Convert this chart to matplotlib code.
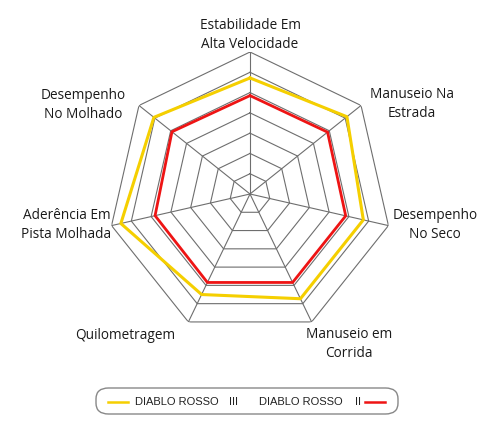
import numpy as np
import matplotlib
matplotlib.use('Agg')
import matplotlib.pyplot as plt
from matplotlib.patches import FancyBboxPatch
from matplotlib.lines import Line2D

categories = ['Estabilidade Em\nAlta Velocidade', 'Manuseio Na\nEstrada', 'Desempenho\nNo Seco',
              'Manuseio em\nCorrida', 'Quilometragem', 'Aderência Em\nPista Molhada',
              'Desempenho\nNo Molhado']
rosso_iii = [5.72, 6.11, 5.73, 5.73, 5.50, 6.53, 6.06]
rosso_ii = [4.85, 4.89, 4.84, 4.84, 4.84, 4.80, 4.92]
rings = [1, 2, 3, 4, 5, 6, 7]

W, H = 500, 435
fig = plt.figure(figsize=(W / 100, H / 100), dpi=100)
ax = fig.add_axes([108 / W, (H - 195 - 142) / H, 284 / W, 284 / H], projection='polar')
ax.set_theta_offset(np.pi / 2)
ax.set_theta_direction(-1)
ax.set_ylim(0, 7)
ax.set_axis_off()

n = len(categories)
angles = np.linspace(0, 2 * np.pi, n, endpoint=False)
closed = np.append(angles, angles[0])

grid_col = '#6e6e6e'
for r in rings:
    ax.plot(closed, [r] * (n + 1), color=grid_col, lw=0.8, zorder=1)
for a in angles:
    ax.plot([a, a], [0, rings[-1]], color=grid_col, lw=0.8, zorder=1)

ax.plot(closed, rosso_iii + rosso_iii[:1], color='#f5cf00', lw=2.2, zorder=3)
ax.plot(closed, rosso_ii + rosso_ii[:1], color='#ee1414', lw=2.0, zorder=4)

# label positions in pixels (x, y from top)
label_pos = [(250, 35), (412, 104), (435, 225), (349, 344), (125.5, 336), (66.5, 225), (83.5, 105)]
for txt, (px, py) in zip(categories, label_pos):
    fig.text(px / W, 1 - py / H, txt, ha='center', va='center', multialignment='center',
             fontsize=9.8, family='Open Sans', color='#1a1a1a', linespacing=1.3)

# legend box
box = FancyBboxPatch((96 / W, 1 - 415 / H), 302 / W, 26 / H,
                     boxstyle='round,pad=0,rounding_size=0.025', transform=fig.transFigure,
                     facecolor='white', edgecolor='#888888', lw=1.0)
fig.patches.append(box)
ly = 1 - 402.5 / H
fig.lines.append(Line2D([108 / W, 128 / W], [ly, ly], color='#f5cf00', lw=1.8, transform=fig.transFigure))
fig.lines.append(Line2D([365 / W, 385 / W], [ly, ly], color='#ee1414', lw=1.8, transform=fig.transFigure))
leg_font = dict(fontsize=8, family='Liberation Sans', color='#222222', va='center')
fig.text(135 / W, ly, 'DIABLO ROSSO', ha='left', **leg_font)
fig.text(229 / W, ly, 'III', ha='left', **leg_font)
fig.text(259 / W, ly, 'DIABLO ROSSO', ha='left', **leg_font)
fig.text(355 / W, ly, 'II', ha='left', **leg_font)

fig.savefig('out.png', dpi=100, facecolor='white')
